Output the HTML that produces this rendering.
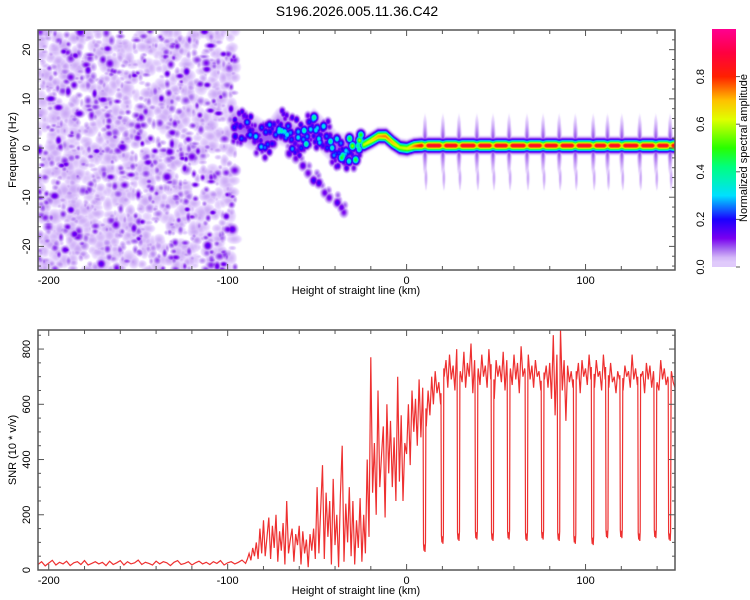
<!DOCTYPE html>
<html><head><meta charset="utf-8">
<style>
body{margin:0;background:#fff;width:750px;height:600px;overflow:hidden;font-family:"Liberation Sans",sans-serif;}
#wrap{position:relative;width:750px;height:600px;}
canvas{position:absolute;left:38px;top:30px;}
svg{position:absolute;left:0;top:0;}
</style></head>
<body>
<div id="wrap">
<canvas id="spec" width="637" height="240"></canvas>
<svg id="svg" width="750" height="600"></svg>
</div>
<script>
// ---------- data ----------
const ridgeKm  = [-97,-92,-88,-84,-80,-76,-72,-68,-64,-60,-56,-52,-48,-44,-40,-36,-32,-28,-24,-20,-16,-12,-8,-4,0,4,8,12,150];
const ridgeHz  = [5,4.5,3.5,3,2,2.5,4.5,4,2.5,1.5,3,4.5,3,1.5,0,-0.5,-0.3,0.3,0.8,1.6,2.5,2.5,1.2,0.2,0,0.5,0.6,0.6,0.6];
const ridgeAmp = [0.22,0.25,0.28,0.3,0.32,0.34,0.38,0.4,0.38,0.36,0.38,0.4,0.38,0.4,0.42,0.48,0.52,0.56,0.6,0.66,0.72,0.75,0.7,0.6,0.62,0.75,0.85,0.88,0.88];
const branchKm = [-66,-62,-58,-55,-52,-49,-46,-43,-40,-37,-35];
const branchHz = [-1,-2,-3.5,-5,-6.5,-7,-9,-10,-11,-12,-13];
const dropKm    = [10,20,29,39,48,57,67,76,85,94,104,112,120,130,139,147];
const dropFloor = [70,100,110,115,110,115,110,115,110,100,95,120,120,110,120,110];
const quietStartKm = -206;
const quietStepKm = 2;
const quietValues = [20,30,15,25,35,18,28,22,32,16,26,30,20,34,18,24,30,22,28,16,32,20,26,34,18,30,22,26,36,20,28,24,18,32,22,30,26,16,28,34,20,24,30,18,26,32,22,28,20,30,24,34,18,26,30,22,28,36,24];
const activeStartKm = -89;
const activeStepKm = 1;
const activeValues = [40,60,35,80,50,100,40,150,60,
180,50,120,190,40,160,80,200,30,140,70,170,20,250,60,110,150,30,130,90,160,20,140,60,110,10,130,70,150,40,
300,60,220,380,40,280,120,250,20,330,90,200,10,270,450,30,240,100,300,50,250,20,180,80,260,30,200,60,400,120,
770,280,460,200,650,300,420,520,190,600,350,540,300,480,250,700,320,560,250,460,
420,600,380,650,500,620,450,690,480,660,600,520,650,560,700,600,720,640,680,600,700,
700,760,660,780,690,740,650,800,700,720,
680,790,660,750,700,820,640,760,690,730,
670,780,700,740,660,800,690,720,620,760,
700,740,680,790,650,760,710,730,670,780,
690,750,640,810,700,730,660,780,690,740,
660,760,700,720,650,780,690,740,660,750,
620,850,560,780,700,870,650,760,540,740,
680,720,660,780,690,750,640,760,700,730,
670,780,690,740,660,760,700,720,650,780,
690,740,660,750,680,700,640,720,690,760,
650,740,700,720,660,780,690,730,670,760,
700,720,640,750,690,740,660,720,700,680,
650,760,690,730,670,700,640,720,680,660];
const xTicks = [-200,-100,0,100];
const freqTicks = [-20,-10,0,10,20];
const snrTicks = [0,200,400,600,800];
const cbTicks = [0.0,0.2,0.4,0.6,0.8];

// ---------- scales ----------
const X0=38,X1=675, KM0=-206, KM1=150;
const xs = km => X0 + (km-KM0)/(KM1-KM0)*(X1-X0);
const T0=30,T1=270, HZ0=-24.8, HZ1=24;
const ysT = hz => T1 - (hz-HZ0)/(HZ1-HZ0)*(T1-T0);
const B0=330,B1=570, S0=0, S1=869;
const ysB = v => B1 - (v-S0)/(S1-S0)*(B1-B0);
const C0=29,C1=267;
const ysC = v => C1 - v*(C1-C0);

function interp(xa,ya,x){ if(x<=xa[0])return ya[0]; for(let i=1;i<xa.length;i++){ if(x<=xa[i]){const t=(x-xa[i-1])/(xa[i]-xa[i-1]);return ya[i-1]+t*(ya[i]-ya[i-1]);}} return ya[ya.length-1]; }

const stops=[[0,[255,255,255]],[0.012,[255,255,255]],[0.02,[236,222,255]],[0.045,[205,172,246]],[0.08,[160,96,240]],[0.12,[122,0,240]],[0.2,[26,0,255]],[0.3,[0,224,255]],[0.42,[0,255,128]],[0.5,[40,255,0]],[0.62,[224,255,0]],[0.7,[255,192,0]],[0.8,[255,32,0]],[0.9,[255,0,64]],[1,[255,0,144]]];
function cmap(v){ v=Math.max(0,Math.min(1,v)); for(let i=1;i<stops.length;i++){ if(v<=stops[i][0]){const a=stops[i-1],b=stops[i];const t=(v-a[0])/(b[0]-a[0]);return [0,1,2].map(k=>Math.round(a[1][k]+t*(b[1][k]-a[1][k])));}} return stops[stops.length-1][1]; }

// ---------- spectrogram field ----------
const W=637,H=240, field=new Float32Array(W*H);
function stamp(cx,cy,sx,sy,a){ const x0=Math.max(0,Math.floor(cx-3*sx)),x1=Math.min(W-1,Math.ceil(cx+3*sx)),y0=Math.max(0,Math.floor(cy-3*sy)),y1=Math.min(H-1,Math.ceil(cy+3*sy));
 for(let y=y0;y<=y1;y++)for(let x=x0;x<=x1;x++){const dx=(x-cx)/sx,dy=(y-cy)/sy;const v=a*Math.exp(-0.5*(dx*dx+dy*dy));const i=y*W+x;if(v>field[i])field[i]=v;}}
let seed=12345; function rnd(){seed|=0;seed=seed+0x6D2B79F5|0;let t=Math.imul(seed^seed>>>15,1|seed);t=t+Math.imul(t^t>>>7,61|t)^t;return((t^t>>>14)>>>0)/4294967296;}
const px = km => xs(km)-X0, py = hz => ysT(hz)-T0;
// background noise texture (left region)
const noiseEnd = px(-96);
for(let n=0;n<700;n++){ stamp(rnd()*noiseEnd,rnd()*H,3+rnd()*2.5,3+rnd()*2.5,0.028+rnd()*0.02); }
for(let n=0;n<1100;n++){ const cx=rnd()*noiseEnd, cy=rnd()*H; const r=rnd(); const a = r<0.6?0.03+rnd()*0.03:(r<0.88?0.06+rnd()*0.05:0.11+rnd()*0.05); stamp(cx,cy,1.5+rnd()*1.8,1.5+rnd()*1.8,a);}
// halo around ridge
for(let km=-97;km<=150;km+=0.5){ stamp(px(km),py(interp(ridgeKm,ridgeHz,km)),3,km<-30?10:6,km<-30?0.08:0.06); }
// vertical spikes at dropouts
dropKm.forEach(d=>{ stamp(px(d),py(0.6),1.5,16,0.1); stamp(px(d)+1,py(-6),1.1,8,0.05); });
// branch
branchKm.forEach((k,i)=>{ stamp(px(k)+(rnd()-0.5)*4,py(branchHz[i]),2.5,3,0.12+rnd()*0.08); stamp(px(k)+(rnd()-0.5)*6,py(branchHz[i]+1.5),2,2.5,0.08); });
// ridge
for(let km=-97;km<=150;km+=(km<-25?0.8:0.25)){
  const f=interp(ridgeKm,ridgeHz,km); let a=interp(ridgeKm,ridgeAmp,km);
  if(km<-25){ stamp(px(km)+(rnd()-0.5)*3,py(f+(rnd()-0.5)*5),2.5,3,a*(0.4+rnd()*0.7)); stamp(px(km),py(f+(rnd()-0.5)*8),2,2.5,0.1+rnd()*0.1); }
  else { let dmin=99; dropKm.forEach(d=>{dmin=Math.min(dmin,Math.abs(km-d));}); if(km>5&&dmin<1.8) a*=0.72+0.28*dmin/1.8; stamp(px(km),py(f),2,3.4,a); }
}
const ctx=document.getElementById('spec').getContext('2d'); const img=ctx.createImageData(W,H);
for(let i=0;i<W*H;i++){const c=cmap(field[i]);img.data[i*4]=c[0];img.data[i*4+1]=c[1];img.data[i*4+2]=c[2];img.data[i*4+3]=255;}
ctx.putImageData(img,0,0);

// ---------- SVG ----------
const NS='http://www.w3.org/2000/svg', svg=document.getElementById('svg');
function el(tag,attrs,parent){const e=document.createElementNS(NS,tag);for(const k in attrs)e.setAttribute(k,attrs[k]);(parent||svg).appendChild(e);return e;}
function txt(s,x,y,size,anchor,rot,name){const t=el('text',{x:x,y:y,'font-size':size,'text-anchor':anchor||'middle',fill:'#000','font-family':'Liberation Sans, sans-serif'});if(rot)t.setAttribute('transform',`rotate(-90 ${x} ${y})`);t.textContent=s;return t;}
const defs=el('defs',{});
const cp=el('clipPath',{id:'cb'},defs); el('rect',{x:X0,y:B0,width:X1-X0,height:B1-B0},cp);
const grad=el('linearGradient',{id:'cg',x1:0,y1:1,x2:0,y2:0},defs);
for(let v=0;v<=1.0001;v+=0.02){const c=cmap(Math.max(v,0.03));el('stop',{offset:v,'stop-color':`rgb(${c})`},grad);}

txt('S196.2026.005.11.36.C42',357,16,14,'middle',false,'chart-title');

// SNR line
const base=[];
quietValues.forEach((v,i)=>base.push([quietStartKm+i*quietStepKm,v]));
activeValues.forEach((v,i)=>base.push([activeStartKm+i*activeStepKm,v]));
const bx=base.map(p=>p[0]), by=base.map(p=>p[1]);
const pts=base.filter(p=>!dropKm.some(d=>Math.abs(p[0]-d)<1));
dropKm.forEach((d,i)=>{ const f=dropFloor[i]; pts.push([d-0.8,interp(bx,by,d-1.5)],[d-0.55,f+25],[d-0.3,f],[d,f+22],[d+0.3,f-5],[d+0.55,f+30],[d+0.8,interp(bx,by,d+1.5)]); });
pts.sort((a,b)=>a[0]-b[0]);
const line=el('polyline',{points:pts.map(p=>xs(p[0]).toFixed(1)+','+ysB(p[1]).toFixed(1)).join(' '),fill:'none',stroke:'#ee3030','stroke-width':1.2,'clip-path':'url(#cb)'});
 

// frames & ticks
function frame(y0,y1,name){const r=el('rect',{x:X0,y:y0,width:X1-X0,height:y1-y0,fill:'none',stroke:'#555','stroke-width':1.5});}
frame(T0,T1,'spectrogram-frame'); frame(B0,B1,'snr-frame');
function xAxis(y0,y1,label,lname){
  for(let k=-200;k<=140;k+=20){const x=xs(k);const L=(k%100===0)?6:4;el('line',{x1:x,y1:y1,x2:x,y2:y1-L,stroke:'#555'});el('line',{x1:x,y1:y0,x2:x,y2:y0+L,stroke:'#555'});}
  xTicks.forEach(k=>txt(String(k),xs(k),y1+14,11,'middle',false,'x-tick-label'));
  txt(label,356,y1+24,11,'middle',false,lname);
}
xAxis(T0,T1,'Height of straight line (km)','spectrogram-x-axis-title');
xAxis(B0,B1,'Height of straight line (km)','snr-x-axis-title');
for(let h=-24;h<=24;h+=2){const y=ysT(h);const L=(h%10===0)?6:3;el('line',{x1:X0,y1:y,x2:X0+L,y2:y,stroke:'#555'});el('line',{x1:X1,y1:y,x2:X1-L,y2:y,stroke:'#555'});}
freqTicks.forEach(h=>txt(String(h),30,ysT(h),11,'middle',true,'freq-tick-label'));
txt('Frequency (Hz)',16,150,11,'middle',true,'freq-axis-title');
for(let v=0;v<=850;v+=50){const y=ysB(v);const L=(v%200===0)?6:3;el('line',{x1:X0,y1:y,x2:X0+L,y2:y,stroke:'#555'});el('line',{x1:X1,y1:y,x2:X1-L,y2:y,stroke:'#555'});}
snrTicks.forEach(v=>txt(String(v),30,ysB(v),11,'middle',true,'snr-tick-label'));
txt('SNR (10 * v/v)',16,450,11,'middle',true,'snr-axis-title');

// colorbar
const cb=el('rect',{x:712,y:C0,width:24,height:C1-C0,fill:'url(#cg)'});
cbTicks.forEach(v=>{el('line',{x1:736,y1:ysC(v),x2:740,y2:ysC(v),stroke:'#555'});txt(v.toFixed(1),704,ysC(v),11,'middle',true,'colorbar-tick-label');});
txt('Normalized spectral amplitude',747,148,11,'middle',true,'colorbar-title');
</script>
</body></html>
